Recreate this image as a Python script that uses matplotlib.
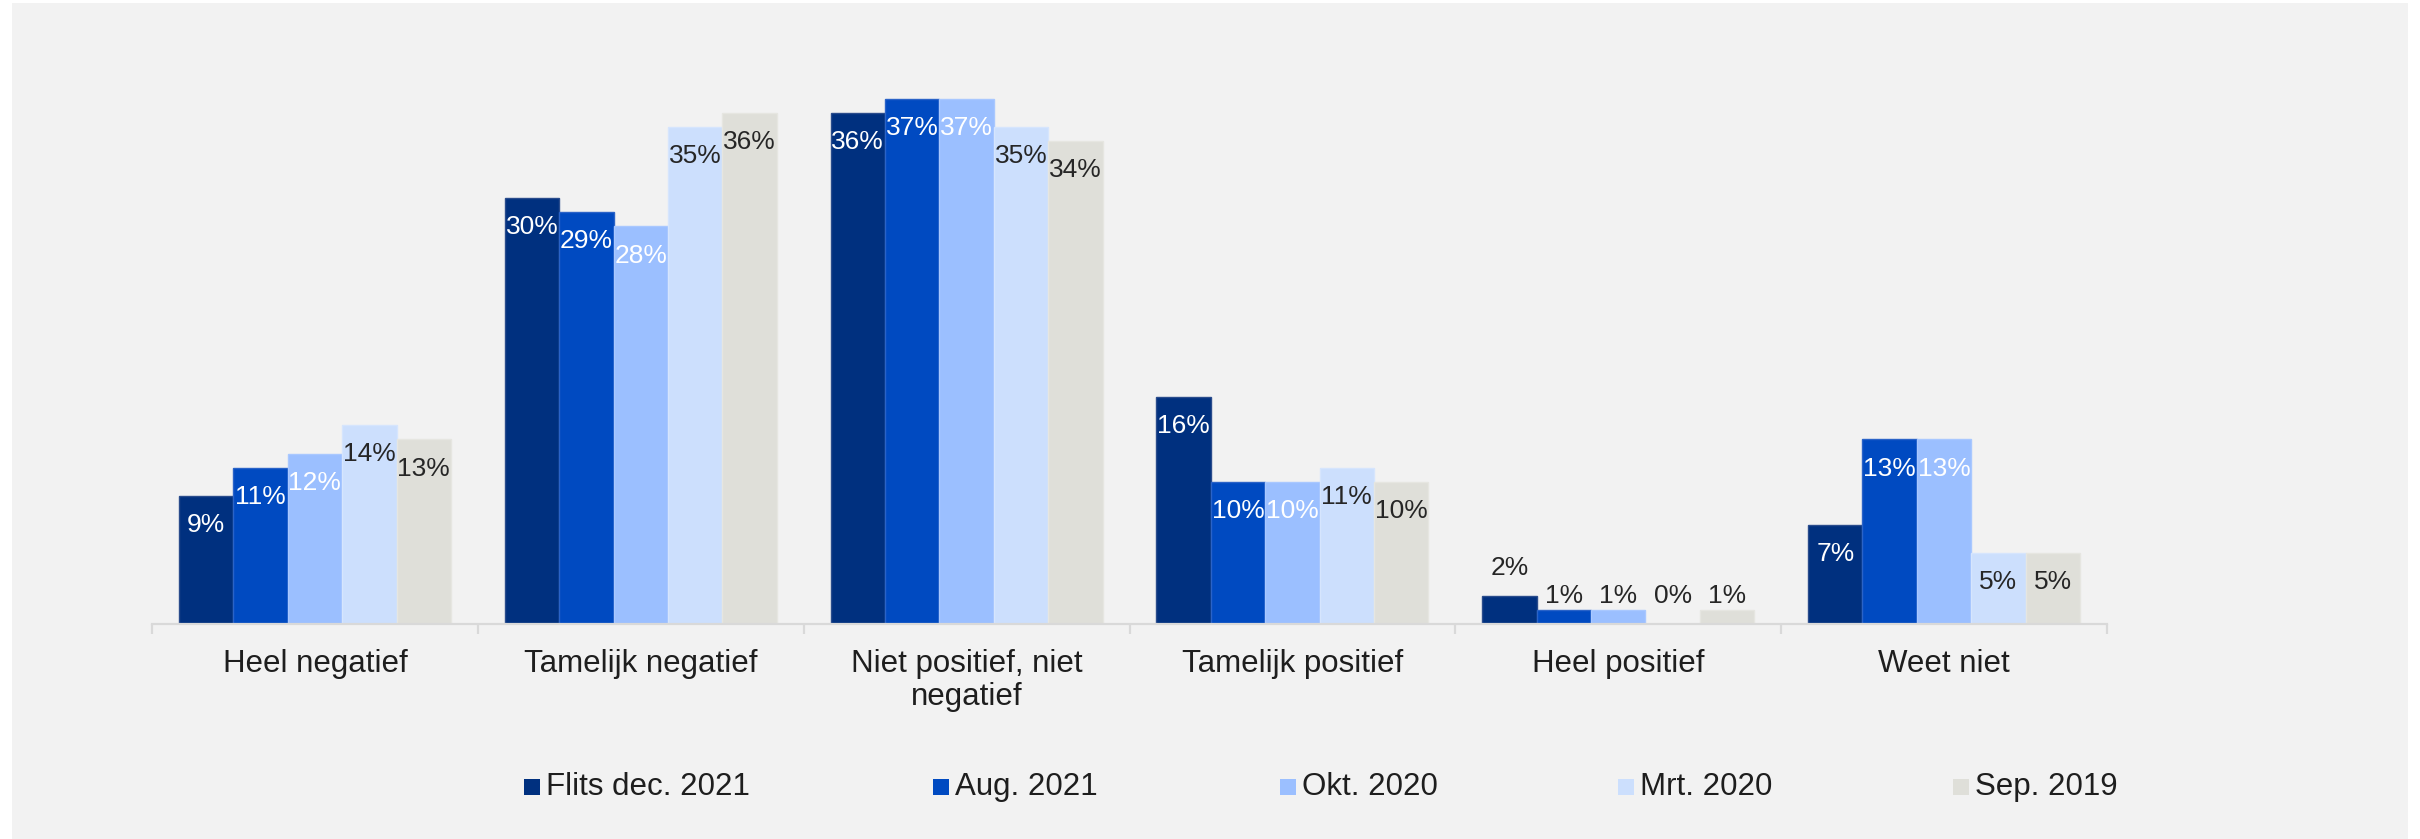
import numpy as np
import matplotlib
matplotlib.use("Agg")
import matplotlib.pyplot as plt
from matplotlib.patches import Rectangle

plt.rcParams["font.family"] = ["Liberation Sans", "DejaVu Sans"]

categories = ["Heel negatief", "Tamelijk negatief", "Niet positief, niet\nnegatief",
              "Tamelijk positief", "Heel positief", "Weet niet"]
series = ["Flits dec. 2021", "Aug. 2021", "Okt. 2020", "Mrt. 2020", "Sep. 2019"]
flits_dec_2021 = [9, 30, 36, 16, 2, 7]
aug_2021 = [11, 29, 37, 10, 1, 13]
okt_2020 = [12, 28, 37, 10, 1, 13]
mrt_2020 = [14, 35, 35, 11, 0, 5]
sep_2019 = [13, 36, 34, 10, 1, 5]
values = [flits_dec_2021, aug_2021, okt_2020, mrt_2020, sep_2019]

colors = ["#00307F", "#004AC1", "#9BBFFF", "#CCDFFD", "#DFDFD9"]
edges = ["#2A4C8C", "#2A63C8", "#A9C8FF", "#D6E5FD", "#E6E6E1"]
label_colors = ["white", "white", "white", "#262626", "#262626"]
text_color = "#1E1E1E"

W, H = 2420, 839
fig = plt.figure(figsize=(W / 100, H / 100), dpi=100, facecolor="white")
fig.patches.append(Rectangle((12 / W, 0), (2408 - 12) / W, (H - 3) / H,
                             transform=fig.transFigure, facecolor="#F2F2F2",
                             edgecolor="none", zorder=-10))

ax = fig.add_axes([152 / W, (H - 624) / H, 1955 / W, 568 / H])
ax.set_facecolor("none")

x = np.arange(len(categories))
n = len(series)
bw = 0.167
for i, (name, vals) in enumerate(zip(series, values)):
    xs = x + (i - (n - 1) / 2) * bw
    ax.bar(xs, vals, width=bw, color=colors[i], edgecolor=edges[i], lw=1.0,
           zorder=2)
    for xi, v, cat in zip(xs, vals, categories):
        if cat == "Heel positief":
            # labels sit above the small bars
            anchor = v if v >= 2 else 0
            ax.annotate(f"{v}%", (xi, anchor), xytext=(0, 20),
                        textcoords="offset points", ha="center", va="center",
                        fontsize=19, color="#262626")
        else:
            ax.annotate(f"{v}%", (xi, v), xytext=(0, -21),
                        textcoords="offset points", ha="center", va="center",
                        fontsize=19, color=label_colors[i])

ax.set_xlim(-0.5, len(categories) - 0.5)
ax.set_ylim(0, 40)
ax.set_yticks([])
for s in ["top", "left", "right"]:
    ax.spines[s].set_visible(False)
ax.spines["bottom"].set_color("#D9D9D9")
ax.spines["bottom"].set_linewidth(1.6)

ax.set_xticks(x)
ax.set_xticklabels(categories, fontsize=22.5, color=text_color, linespacing=1.15)
ax.tick_params(axis="x", which="major", length=0, pad=18)
ax.set_xticks(np.arange(-0.5, len(categories)), minor=True)
ax.tick_params(axis="x", which="minor", length=7.5, width=1.6, color="#D9D9D9")

# legend drawn by hand to match the spacing of the original
legend_x = [524, 933, 1280, 1618, 1953]
ly = (H - 787) / H
for i, name in enumerate(series):
    fig.patches.append(Rectangle((legend_x[i] / W, ly - 8 / H), 16 / W, 16 / H,
                                 transform=fig.transFigure, facecolor=colors[i],
                                 edgecolor="none"))
    fig.text((legend_x[i] + 22) / W, ly, name, fontsize=22.5, color=text_color,
             ha="left", va="center")

fig.savefig("out.png", dpi=100, facecolor="white")
